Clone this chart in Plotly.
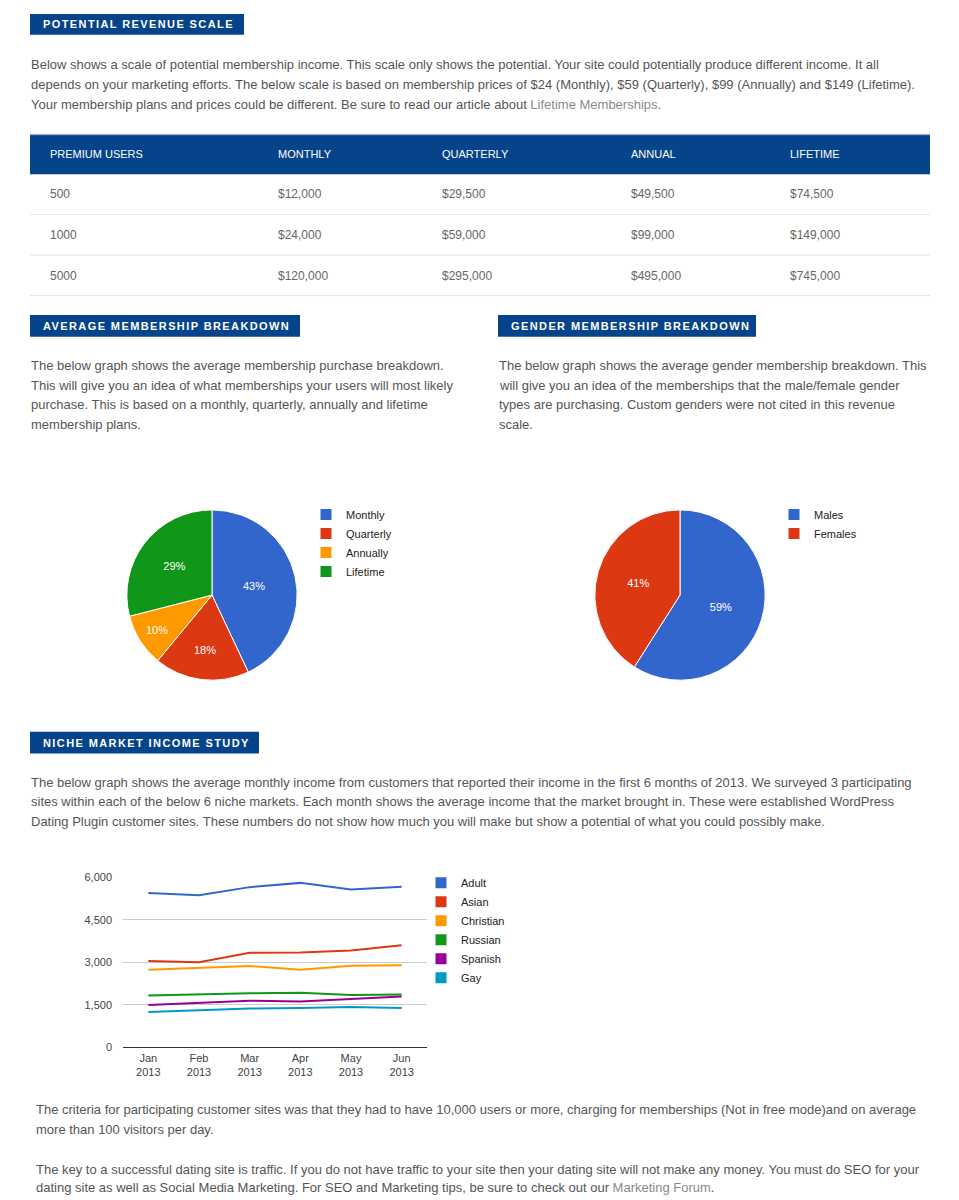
import plotly.graph_objects as go

W, H = 959, 1200

# ---------------- data ----------------
table_header = ["", "PREMIUM USERS", "MONTHLY", "QUARTERLY", "ANNUAL", "LIFETIME"]
premium_users = ["500", "1000", "5000"]
monthly_rev = ["$12,000", "$24,000", "$120,000"]
quarterly_rev = ["$29,500", "$59,000", "$295,000"]
annual_rev = ["$49,500", "$99,000", "$495,000"]
lifetime_rev = ["$74,500", "$149,000", "$745,000"]

plan_labels = ["Monthly", "Quarterly", "Annually", "Lifetime"]
plan_share = [43, 18, 10, 29]

gender_labels = ["Males", "Females"]
gender_share = [59, 41]

months = ["Jan<br>2013", "Feb<br>2013", "Mar<br>2013", "Apr<br>2013", "May<br>2013", "Jun<br>2013"]
adult = [5440, 5360, 5650, 5800, 5570, 5660]
asian = [3050, 3000, 3340, 3350, 3420, 3600]
christian = [2740, 2810, 2870, 2740, 2880, 2900]
russian = [1830, 1880, 1910, 1930, 1850, 1870]
spanish = [1500, 1580, 1650, 1620, 1720, 1800]
gay = [1250, 1320, 1370, 1390, 1430, 1390]
niche_names = ["Adult", "Asian", "Christian", "Russian", "Spanish", "Gay"]
niche_values = [adult, asian, christian, russian, spanish, gay]
y_ticks = [0, 1500, 3000, 4500, 6000]

palette = ["#3366cc", "#dc3912", "#ff9900", "#109618", "#990099", "#0099c6"]

# ---------------- helpers (page pixel -> paper fraction) ----------------
def px(x):
    return x / W

def py(y):
    return 1 - y / H

FONT = "Liberation Sans, Arial, sans-serif"
TXT = "#555555"
LINK = "#8a8a8a"
NAVY = "#05448a"

fig = go.Figure()

# ---------------- table ----------------
fig.add_trace(go.Table(
    domain=dict(x=[px(30), px(930)], y=[py(299), py(137)]),
    columnwidth=[12, 228, 164, 189, 159, 148],
    header=dict(values=table_header, fill_color="rgba(0,0,0,0)", line_color="rgba(0,0,0,0)",
                align="left", height=39,
                font=dict(family=FONT, size=11, color="white")),
    cells=dict(values=[["", "", ""], premium_users, monthly_rev, quarterly_rev,
                       annual_rev, lifetime_rev],
               fill_color="rgba(0,0,0,0)", line_color="rgba(0,0,0,0)",
               align="left", height=41,
               font=dict(family=FONT, size=12, color="#666666")),
))

shapes = [dict(type="rect", xref="paper", yref="paper", layer="below",
               x0=px(30), x1=px(930), y0=py(170), y1=py(130),
               fillcolor=NAVY, line=dict(width=0)),
          dict(type="line", xref="paper", yref="paper", layer="below",
               x0=px(30), x1=px(930), y0=py(130.5), y1=py(130.5),
               line=dict(color="#2c5f98", width=1))]
for yy in [210.5, 251.5, 292.5]:
    shapes.append(dict(type="line", xref="paper", yref="paper", layer="below",
                       x0=px(30), x1=px(930), y0=py(yy), y1=py(yy),
                       line=dict(color="#e6e6e6", width=1)))

# ---------------- badges ----------------
badges = [
    ("POTENTIAL REVENUE SCALE", 30, 244, 8, 29),
    ("AVERAGE MEMBERSHIP BREAKDOWN", 30, 300, 312, 334),
    ("GENDER MEMBERSHIP BREAKDOWN", 498, 756, 312, 334),
    ("NICHE MARKET INCOME STUDY", 30, 259, 733, 755),
]
annotations = []
for text, x0, x1, y0, y1 in badges:
    shapes.append(dict(type="rect", xref="paper", yref="paper", layer="below",
                       x0=px(x0), x1=px(x1), y0=py(y1), y1=py(y0),
                       fillcolor=NAVY, line=dict(width=0)))
    annotations.append(dict(xref="paper", yref="paper", x=px(x0 + 11), y=py((y0 + y1) / 2),
                            xanchor="left", yanchor="middle", showarrow=False,
                            text='<span style="letter-spacing:1.4px">' + text + '</span>',
                            font=dict(family=FONT, size=11, color="white", weight="bold")))

# ---------------- paragraphs ----------------
paragraphs = [
    (30, 59, "Below shows a scale of potential membership income. This scale only shows the potential. Your site could potentially produce different income. It all"),
    (30, 79, "depends on your marketing efforts. The below scale is based on membership prices of $24 (Monthly), $59 (Quarterly), $99 (Annually) and $149 (Lifetime)."),
    (30, 99, "Your membership plans and prices could be different. Be sure to read our article about <span style='color:%s'>Lifetime Memberships</span>." % LINK),
    (30, 363, "The below graph shows the average membership purchase breakdown."),
    (30, 383, "This will give you an idea of what memberships your users will most likely"),
    (30, 403, "purchase. This is based on a monthly, quarterly, annually and lifetime"),
    (30, 423, "membership plans."),
    (498, 363, "The below graph shows the average gender membership breakdown. This"),
    (498, 383, "will give you an idea of the memberships that the male/female gender"),
    (498, 403, "types are purchasing. Custom genders were not cited in this revenue"),
    (498, 423, "scale."),
    (30, 784, "The below graph shows the average monthly income from customers that reported their income in the first 6 months of 2013. We surveyed 3 participating"),
    (30, 804, "sites within each of the below 6 niche markets. Each month shows the average income that the market brought in. These were established WordPress"),
    (30, 824, "Dating Plugin customer sites. These numbers do not show how much you will make but show a potential of what you could possibly make."),
    (35, 1115, "The criteria for participating customer sites was that they had to have 10,000 users or more, charging for memberships (Not in free mode)and on average"),
    (35, 1135, "more than 100 visitors per day."),
    (35, 1175, "The key to a successful dating site is traffic. If you do not have traffic to your site then your dating site will not make any money. You must do SEO for your"),
    (35, 1193, "dating site as well as Social Media Marketing. For SEO and Marketing tips, be sure to check out our <span style='color:%s'>Marketing Forum</span>." % LINK),
]
for x, y, text in paragraphs:
    annotations.append(dict(xref="paper", yref="paper", x=px(x - 1), y=py(y),
                            xanchor="left", yanchor="middle", showarrow=False,
                            text=text, font=dict(family=FONT, size=13, color=TXT)))

# ---------------- pies ----------------
fig.add_trace(go.Pie(
    labels=plan_labels, values=plan_share, sort=False, direction="clockwise",
    domain=dict(x=[px(126), px(298)], y=[py(681), py(509)]),
    marker=dict(colors=palette[:4], line=dict(color="white", width=1)),
    textinfo="percent", textposition="inside", insidetextorientation="horizontal",
    textfont=dict(family=FONT, size=11, color="white"),
    hoverinfo="skip", legend="legend",
))
fig.add_trace(go.Pie(
    labels=gender_labels, values=gender_share, sort=False, direction="clockwise",
    domain=dict(x=[px(594), px(766)], y=[py(681), py(509)]),
    marker=dict(colors=palette[:2], line=dict(color="white", width=1)),
    textinfo="percent", textposition="inside", insidetextorientation="horizontal",
    textfont=dict(family=FONT, size=11, color="white"),
    hoverinfo="skip", legend="legend2",
))

# ---------------- line chart ----------------
for i, (name, vals) in enumerate(zip(niche_names, niche_values)):
    fig.add_trace(go.Scatter(x=months, y=vals, mode="lines", name=name,
                             line=dict(color=palette[i], width=2),
                             legendgroup=name, showlegend=False, hoverinfo="skip"))
    fig.add_trace(go.Scatter(x=[None], y=[None], mode="markers", name=name,
                             marker=dict(symbol="square", size=11, color=palette[i]),
                             legendgroup=name, showlegend=True, legend="legend3"))

legend_common = dict(font=dict(family=FONT, size=11, color="#222222"),
                     xanchor="left", yanchor="top", bgcolor="rgba(0,0,0,0)",
                     tracegroupgap=0, itemclick=False, itemdoubleclick=False)

fig.update_layout(
    width=W, height=H, autosize=False,
    margin=dict(l=0, r=0, t=0, b=0),
    paper_bgcolor="white", plot_bgcolor="white",
    shapes=shapes, annotations=annotations,
    legend=dict(x=px(306), y=py(499), **legend_common),
    legend2=dict(x=px(774), y=py(499), **legend_common),
    legend3=dict(x=px(421), y=py(871), **legend_common),
    xaxis=dict(domain=[px(123), px(427)], range=[-0.5, 5.5], type="category",
               showgrid=False, showline=True, linecolor="#333333", linewidth=1,
               ticks="", tickfont=dict(family=FONT, size=11, color="#444444"),
               anchor="y", fixedrange=True),
    yaxis=dict(domain=[py(1052), py(880)], range=[0, 6000], tickvals=y_ticks,
               tickformat=",", showgrid=True, gridcolor="#cccccc", gridwidth=1,
               zeroline=False, showline=False, ticklabelstandoff=10,
               tickfont=dict(family=FONT, size=11, color="#444444"),
               anchor="x", fixedrange=True),
)

fig.write_html("out.html", config={"displayModeBar": False},
               post_script=("var d=document.documentElement;d.style.margin='0';d.style.padding='0';"
                            "d.style.overflow='hidden';"
                            "document.body.style.margin='0';document.body.style.padding='0';"
                            "document.body.style.overflow='hidden';"))
